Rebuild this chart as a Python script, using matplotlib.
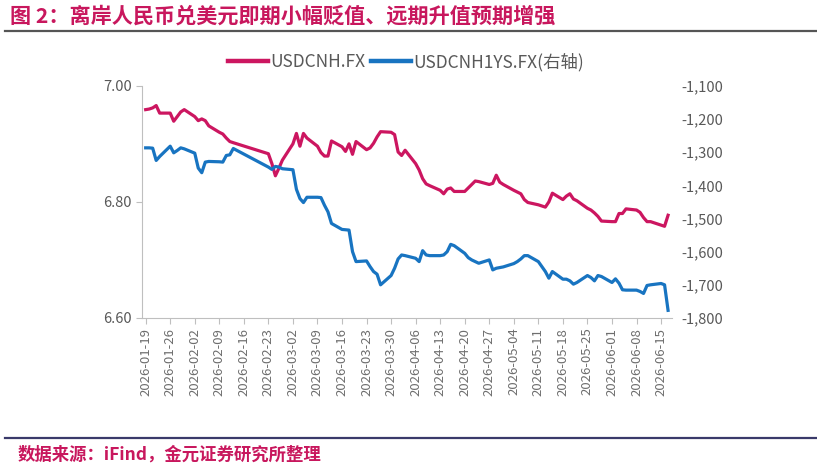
import matplotlib
matplotlib.use("Agg")
import matplotlib.pyplot as plt
import matplotlib.dates as mdates
from matplotlib.ticker import FuncFormatter, MultipleLocator
from matplotlib.lines import Line2D
import pandas as pd

plt.rcParams['font.family'] = ['Noto Sans CJK SC', 'DejaVu Sans']

# trading days, Chinese New Year week has no data
dates = pd.bdate_range("2026-01-19", "2026-06-17")
dates = dates[(dates < "2026-02-16") | (dates > "2026-02-20")]

usdcnh = [
    6.959, 6.960, 6.962, 6.966, 6.953,
    6.953, 6.939, 6.947, 6.955, 6.959,
    6.947, 6.940, 6.943, 6.940, 6.931,
    6.920, 6.917, 6.910, 6.904, 6.902,
    6.883, 6.866, 6.845, 6.858, 6.872,
    6.900, 6.918, 6.896, 6.918, 6.910,
    6.896, 6.885, 6.879, 6.879, 6.905,
    6.895, 6.887, 6.900, 6.882, 6.904,
    6.890, 6.893, 6.901, 6.912, 6.921,
    6.920, 6.916, 6.886, 6.880, 6.889,
    6.866, 6.855, 6.840, 6.831, 6.828,
    6.820, 6.814, 6.822, 6.824, 6.818,
    6.818, 6.824, 6.830, 6.836, 6.835,
    6.830, 6.832, 6.846, 6.834, 6.830,
    6.820, 6.817, 6.814, 6.804, 6.799,
    6.795, 6.793, 6.791, 6.800, 6.815,
    6.804, 6.810, 6.814, 6.805, 6.802,
    6.789, 6.786, 6.781, 6.775, 6.767,
    6.766, 6.766, 6.780, 6.780, 6.788,
    6.786, 6.782, 6.773, 6.766, 6.766,
    6.760, 6.758, 6.777,
]

usdcnh1ys = [
    -1287, -1287, -1288, -1325, -1313,
    -1282, -1302, -1295, -1287, -1290,
    -1303, -1348, -1362, -1330, -1328,
    -1329, -1330, -1310, -1308, -1289,
    -1345, -1352, -1343, -1345, -1350,
    -1353, -1412, -1440, -1452, -1436,
    -1436, -1437, -1460, -1480, -1515,
    -1533, -1534, -1535, -1600, -1630,
    -1628, -1645, -1660, -1668, -1700,
    -1672, -1650, -1622, -1610, -1612,
    -1620, -1630, -1597, -1610, -1612,
    -1612, -1610, -1600, -1578, -1582,
    -1605, -1618, -1625, -1630, -1635,
    -1625, -1655, -1650, -1648, -1646,
    -1636, -1630, -1622, -1612, -1612,
    -1630, -1645, -1660, -1680, -1660,
    -1683, -1683, -1688, -1698, -1693,
    -1672, -1678, -1688, -1672, -1675,
    -1693, -1682, -1695, -1715, -1716,
    -1716, -1720, -1726, -1702, -1700,
    -1696, -1700, -1777,
]

title = "图 2：离岸人民币兑美元即期小幅贬值、远期升值预期增强"
source = "数据来源：iFind，金元证券研究所整理"

RED = "#CC1660"
BLUE = "#1874C1"
GREY = "#595959"
ACCENT = "#C8175D"

fig = plt.figure(figsize=(8.17, 4.69), dpi=100)
ax = fig.add_axes([0.174, 0.322, 0.648, 0.495])
ax2 = ax.twinx()

ax.plot(dates, usdcnh, color=RED, lw=2.3, solid_joinstyle="round")
ax2.plot(dates, usdcnh1ys, color=BLUE, lw=2.3, solid_joinstyle="round")

ax.set_ylim(6.60, 7.00)
ax.yaxis.set_major_locator(MultipleLocator(0.2))
ax.yaxis.set_major_formatter(FuncFormatter(lambda v, p: f"{v:.2f}"))
ax2.set_ylim(-1800, -1100)
ax2.yaxis.set_major_locator(MultipleLocator(100))
ax2.yaxis.set_major_formatter(FuncFormatter(lambda v, p: f"{v:,.0f}"))

ax.set_xlim(pd.Timestamp("2026-01-18"), pd.Timestamp("2026-06-18"))
ax.xaxis.set_major_locator(mdates.WeekdayLocator(byweekday=mdates.MO, interval=1))
ax.xaxis.set_major_formatter(mdates.DateFormatter("%Y-%m-%d"))
for lab in ax.get_xticklabels():
    lab.set_rotation(90)

for a in (ax, ax2):
    for s in a.spines.values():
        s.set_visible(False)
ax.spines['left'].set_visible(True)
ax.spines['bottom'].set_visible(True)
ax.spines['left'].set_color("#BFBFBF")
ax.spines['bottom'].set_color("#BFBFBF")

ax.tick_params(axis='x', colors="#BFBFBF", labelcolor="#6E6E6E", labelsize=9.5, length=4, pad=3)
ax.tick_params(axis='y', colors="#BFBFBF", labelcolor=GREY, labelsize=10.5, length=4)
ax2.tick_params(axis='y', length=0, labelcolor=GREY, labelsize=10.5, pad=7)

handles = [Line2D([], [], color=RED, lw=3.2), Line2D([], [], color=BLUE, lw=3.2)]
fig.legend(handles, ["USDCNH.FX", "USDCNH1YS.FX(右轴)"], loc="center",
           bbox_to_anchor=(0.497, 0.868), ncol=2, frameon=False, fontsize=12.5,
           labelcolor=GREY, handlelength=2.3, handletextpad=0.15, columnspacing=0.3)

fig.text(0.012, 0.966, title, color=ACCENT, fontsize=15.2, fontweight="bold",
         va="center", ha="left")
fig.add_artist(Line2D([0.006, 1.0], [0.934, 0.934], color="#555555", lw=1.6))
fig.add_artist(Line2D([0.006, 1.0], [0.066, 0.066], color="#3A3A6A", lw=1.6))
fig.text(0.022, 0.031, source, color=ACCENT, fontsize=12.5, fontweight="bold",
         va="center", ha="left")

fig.savefig("out.png", dpi=100)
